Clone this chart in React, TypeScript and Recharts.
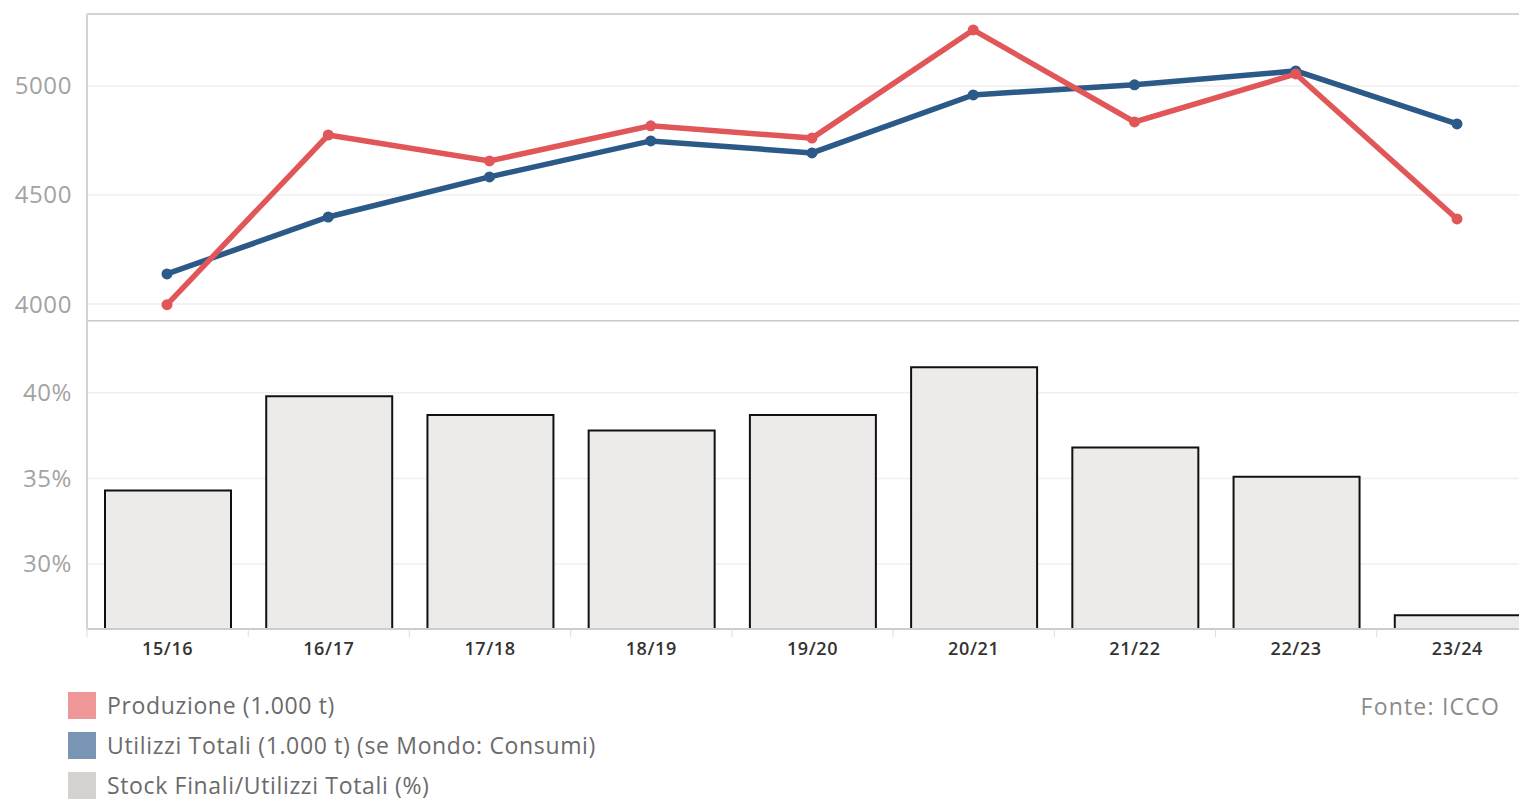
import {
  LineChart,
  Line,
  BarChart,
  Bar,
  XAxis,
  YAxis,
  CartesianGrid,
  ReferenceLine,
} from 'recharts';

const seasons = ['15/16', '16/17', '17/18', '18/19', '19/20', '20/21', '21/22', '22/23', '23/24'];
const produzione = [3997, 4775, 4656, 4817, 4761, 5257, 4835, 5055, 4390];
const utilizzi = [4138, 4399, 4583, 4748, 4693, 4959, 5005, 5069, 4826];
const stockRatio = [34.3, 39.8, 38.7, 37.8, 38.7, 41.5, 36.8, 35.1, 27.0];

const topTicks = [4000, 4500, 5000];
const bottomTicks = [30, 35, 40];

const legendItems = [
  { label: 'Produzione (1.000 t)', color: '#EE9698' },
  { label: 'Utilizzi Totali (1.000 t) (se Mondo: Consumi)', color: '#7896B3' },
  { label: 'Stock Finali/Utilizzi Totali (%)', color: '#D5D1CE' },
];

const FONT = '"Open Sans", sans-serif';
const RED = '#E15759';
const BLUE = '#2C5A88';
const TOP_DOMAIN: [number, number] = [3922, 5330];
const BOTTOM_DOMAIN: [number, number] = [26.2, 44.2];

const lineData = seasons.map((s, i) => ({ season: s, produzione: produzione[i], utilizzi: utilizzi[i] }));
const barData = seasons.map((s, i) => ({ season: s, stock: stockRatio[i] }));

function SeasonTick(props: any) {
  const { x, y, payload } = props;
  const half = payload.offset || 0;
  return (
    <g>
      <line x1={x - half} x2={x - half} y1={y} y2={y + 8} stroke="#dddddd" strokeWidth={1} />
      <text
        x={x}
        y={y + 21}
        textAnchor="middle"
        dominantBaseline="middle"
        fontFamily={FONT}
        fontSize={18}
        fontWeight={600}
        letterSpacing={0.6}
        fill="#333333"
      >
        {payload.value}
      </text>
    </g>
  );
}

const yTick = { fontFamily: FONT, fontSize: 24, fill: '#a3a3a3', letterSpacing: 0.6 };

export default function App() {
  return (
    <div
      style={{
        position: 'absolute',
        left: 0,
        top: 0,
        width: 1519,
        height: 800,
        overflow: 'hidden',
        background: '#ffffff',
        fontFamily: FONT,
      }}
    >
      <div style={{ position: 'absolute', left: 0, top: 0 }}>
        <LineChart width={1538} height={322} data={lineData} margin={{ top: 14, right: 0, bottom: 1, left: 0 }}>
          <CartesianGrid vertical={false} stroke="#efefef" strokeWidth={1.5} />
          <XAxis dataKey="season" hide padding={{ left: 80, right: 81 }} />
          <YAxis
            domain={TOP_DOMAIN}
            ticks={topTicks}
            width={87}
            tickLine={false}
            tickSize={0}
            tickMargin={15}
            axisLine={{ stroke: '#d4d4d4', strokeWidth: 2 }}
            tick={yTick}
            allowDataOverflow
          />
          <ReferenceLine y={TOP_DOMAIN[1]} stroke="#d4d4d4" strokeWidth={2} />
          <ReferenceLine y={TOP_DOMAIN[0]} stroke="#c8c8c8" strokeWidth={2} />
          <Line
            dataKey="utilizzi"
            stroke={BLUE}
            strokeWidth={5.5}
            dot={{ r: 5.5, fill: BLUE, stroke: 'none' }}
            isAnimationActive={false}
          />
          <Line
            dataKey="produzione"
            stroke={RED}
            strokeWidth={5.5}
            dot={{ r: 5.5, fill: RED, stroke: 'none' }}
            isAnimationActive={false}
          />
        </LineChart>
      </div>

      <div style={{ position: 'absolute', left: 0, top: 321 }}>
        <BarChart width={1538} height={348} data={barData} margin={{ top: 0, right: 0, bottom: 0, left: 0 }}>
          <CartesianGrid vertical={false} stroke="#efefef" strokeWidth={1.5} />
          <XAxis
            dataKey="season"
            height={40}
            tickSize={0}
            tickMargin={0}
            tickLine={false}
            axisLine={{ stroke: '#cccccc', strokeWidth: 2 }}
            tick={<SeasonTick />}
            interval={0}
          />
          <YAxis
            domain={BOTTOM_DOMAIN}
            ticks={bottomTicks}
            width={87}
            tickLine={false}
            tickSize={0}
            tickMargin={15}
            axisLine={{ stroke: '#d4d4d4', strokeWidth: 2 }}
            tick={yTick}
            tickFormatter={(v: number) => `${v}%`}
            allowDataOverflow
          />
          <Bar dataKey="stock" fill="#ECEBE9" stroke="#111111" strokeWidth={2} barSize={126} isAnimationActive={false} />
        </BarChart>
      </div>

      <div style={{ position: 'absolute', left: 68, top: 691 }}>
        {legendItems.map((item) => (
          <div key={item.label} style={{ display: 'flex', alignItems: 'center', height: 40 }}>
            <div style={{ width: 28, height: 27, background: item.color, marginRight: 11, marginTop: -11 }} />
            <span style={{ fontSize: 23, lineHeight: '30px', color: '#6b6b6b', marginTop: -13, letterSpacing: 0.65 }}>
              {item.label}
            </span>
          </div>
        ))}
      </div>

      <div style={{ position: 'absolute', right: 19, top: 690, fontSize: 23, color: '#8c8c8c', letterSpacing: 1.2 }}>
        Fonte: ICCO
      </div>
    </div>
  );
}
